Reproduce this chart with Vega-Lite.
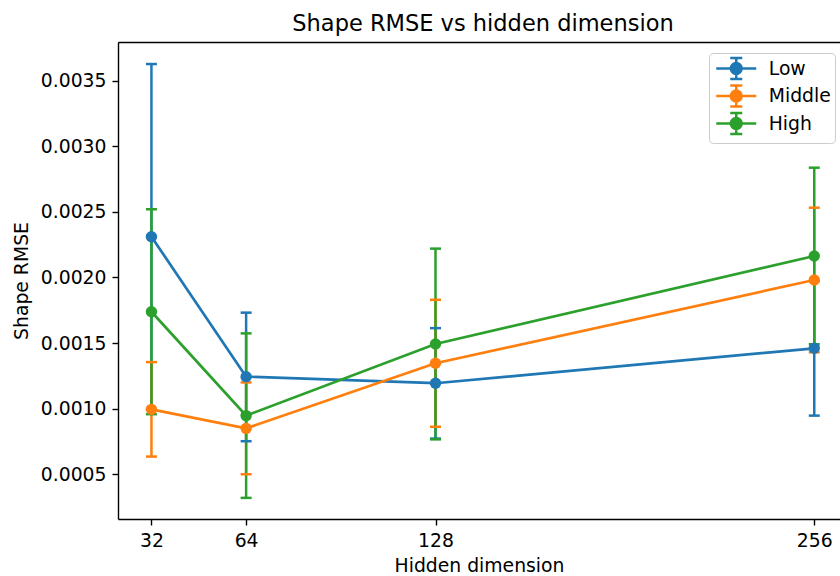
{
  "$schema": "https://vega.github.io/schema/vega-lite/v6.json",
  "autosize": "none",
  "width": 722,
  "height": 477,
  "padding": {"left": 118, "top": 42, "right": 0, "bottom": 57},
  "background": "white",
  "title": {"text": "Shape RMSE vs hidden dimension", "fontSize": 22.5, "fontWeight": "normal", "font": "DejaVu Sans", "color": "black", "anchor": "middle", "dx": 4, "offset": 7},
  "config": {
    "view": {"stroke": null},
    "font": "DejaVu Sans",
    "axis": {"grid": false, "domainColor": "black", "domainWidth": 1.4, "tickColor": "black", "tickWidth": 1.4, "tickSize": 6, "labelFontSize": 18.8, "labelColor": "black", "labelFont": "DejaVu Sans", "titleFontSize": 18.8, "titleFontWeight": "normal", "titleColor": "black", "titleFont": "DejaVu Sans", "labelPadding": 6}
  },
  "data": {"values": [
    {"dim": 32, "group": "Low", "mean": 0.002311, "lo": 0.000995, "hi": 0.003627},
    {"dim": 64, "group": "Low", "mean": 0.001244, "lo": 0.000752, "hi": 0.001732},
    {"dim": 128, "group": "Low", "mean": 0.001194, "lo": 0.000772, "hi": 0.001614},
    {"dim": 256, "group": "Low", "mean": 0.00146, "lo": 0.000947, "hi": 0.001973},
    {"dim": 32, "group": "Middle", "mean": 0.000995, "lo": 0.000635, "hi": 0.001355},
    {"dim": 64, "group": "Middle", "mean": 0.00085, "lo": 0.0005, "hi": 0.0012},
    {"dim": 128, "group": "Middle", "mean": 0.001346, "lo": 0.000862, "hi": 0.00183},
    {"dim": 256, "group": "Middle", "mean": 0.001981, "lo": 0.00143, "hi": 0.002532},
    {"dim": 32, "group": "High", "mean": 0.001739, "lo": 0.000958, "hi": 0.00252},
    {"dim": 64, "group": "High", "mean": 0.000947, "lo": 0.00032, "hi": 0.001574},
    {"dim": 128, "group": "High", "mean": 0.001493, "lo": 0.000766, "hi": 0.00222},
    {"dim": 256, "group": "High", "mean": 0.002164, "lo": 0.001491, "hi": 0.002837}
  ]},
  "resolve": {"axis": {"x": "independent"}},
  "layer": [
    {
      "mark": {"type": "rule", "strokeWidth": 2.5},
      "encoding": {
        "x": {"field": "dim", "type": "quantitative", "scale": {"domain": [20.7, 264.7], "nice": false, "zero": false},
              "axis": {"orient": "top", "labels": false, "ticks": false, "title": null, "domain": true}},
        "y": {"field": "lo", "type": "quantitative", "scale": {"domain": [0.000159, 0.003795], "nice": false, "zero": false}},
        "y2": {"field": "hi"},
        "color": {"field": "group", "type": "nominal", "scale": {"domain": ["Low", "Middle", "High"], "range": ["#1f77b4", "#ff7f0e", "#2ca02c"]},
                  "legend": {"title": null, "orient": "none", "legendX": 591, "legendY": 11,
                             "symbolType": "M-2,0H2M0,-1.05V1.05M-0.6,-1.05H0.6M-0.6,1.05H0.6M0.54,0C0.54,0.298 0.298,0.54 0,0.54C-0.298,0.54 -0.54,0.298 -0.54,0C-0.54,-0.298 -0.298,-0.54 0,-0.54C0.298,-0.54 0.54,-0.298 0.54,0Z",
                             "symbolSize": 400, "symbolStrokeWidth": 2.5, "symbolOffset": 11.75, "labelFontSize": 18.8, "labelFont": "DejaVu Sans", "labelColor": "black",
                             "labelOffset": 21, "rowPadding": -3.5, "padding": 4, "fillColor": "white", "strokeColor": "#cccccc", "cornerRadius": 4,
                             "encode": {"symbols": {"update": {"fill": {"scale": "color", "field": "value"}, "stroke": {"scale": "color", "field": "value"}, "strokeWidth": {"value": 2.5}, "fillOpacity": {"value": 1}, "opacity": {"value": 1}}}}}}
      }
    },
    {
      "mark": {"type": "tick", "orient": "horizontal", "size": 11, "thickness": 2.5, "opacity": 1},
      "encoding": {
        "x": {"field": "dim", "type": "quantitative", "axis": null},
        "y": {"field": "lo", "type": "quantitative"},
        "color": {"field": "group", "type": "nominal"}
      }
    },
    {
      "mark": {"type": "tick", "orient": "horizontal", "size": 11, "thickness": 2.5, "opacity": 1},
      "encoding": {
        "x": {"field": "dim", "type": "quantitative", "axis": null},
        "y": {"field": "hi", "type": "quantitative"},
        "color": {"field": "group", "type": "nominal"}
      }
    },
    {
      "mark": {"type": "line", "strokeWidth": 2.7},
      "encoding": {
        "x": {"field": "dim", "type": "quantitative", "axis": null},
        "y": {"field": "mean", "type": "quantitative"},
        "color": {"field": "group", "type": "nominal"},
        "order": {"field": "dim", "type": "quantitative"}
      }
    },
    {
      "mark": {"type": "point", "filled": true, "shape": "circle", "size": 130, "opacity": 1},
      "encoding": {
        "x": {"field": "dim", "type": "quantitative",
              "axis": {"values": [32, 64, 128, 256], "title": "Hidden dimension", "orient": "bottom", "titlePadding": 7}},
        "y": {"field": "mean", "type": "quantitative",
              "axis": {"values": [0.0005, 0.001, 0.0015, 0.002, 0.0025, 0.003, 0.0035], "format": ".4f", "title": "Shape RMSE", "titlePadding": 9}},
        "color": {"field": "group", "type": "nominal"}
      }
    }
  ]
}
